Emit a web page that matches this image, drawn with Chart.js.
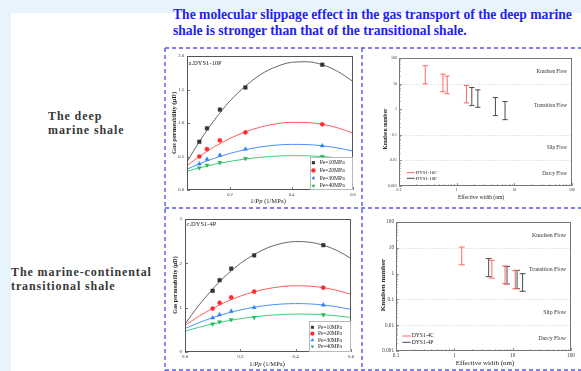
<!DOCTYPE html>
<html>
<head>
<meta charset="utf-8">
<script src="https://cdn.jsdelivr.net/npm/chart.js@4.4.1/dist/chart.umd.min.js"></script>
<style>
html,body{margin:0;padding:0}
body{width:581px;height:371px;position:relative;overflow:hidden;background:#e7f4fd;font-family:"Liberation Serif","Times New Roman",serif}
#panel{position:absolute;left:11px;top:13px;right:0;bottom:0;background:#fff}
#frames{position:absolute;left:0;top:0}
canvas{position:absolute}
.txt{position:absolute;white-space:nowrap}
#headline{left:173px;top:7px;font-size:13.6px;line-height:16px;font-weight:bold;color:#2323ee}
.side{font-size:12px;line-height:14px;font-weight:bold;color:#383838;letter-spacing:0.9px}
.ttl{position:absolute;white-space:nowrap;color:#222;transform:translate(-50%,-50%)}
.ttl.v{transform:translate(-50%,-50%) rotate(-90deg);font-weight:bold}
</style>
</head>
<body>
<div id="panel"></div>
<svg id="frames" width="581" height="371">
  <g stroke="#5656f2" stroke-width="1.4" stroke-dasharray="4 3" fill="none">
    <line x1="165" y1="48" x2="581" y2="48"/>
    <line x1="165" y1="208" x2="581" y2="208"/>
    <line x1="165" y1="370" x2="581" y2="370"/>
    <line x1="165" y1="48" x2="165" y2="371"/>
    <line x1="362" y1="48" x2="362" y2="371"/>
  </g>
</svg>

<div id="headline" class="txt">The molecular slippage effect in the gas transport of the deep marine<br>shale is stronger than that of the transitional shale.</div>
<div class="txt side" style="left:48px;top:109px">The deep<br>marine shale</div>
<div class="txt side" style="left:11px;top:265px">The marine-continental<br>transitional shale</div>

<canvas id="cA" width="195" height="158" style="left:166px;top:49px"></canvas>
<canvas id="cB" width="218" height="158" style="left:363px;top:49px"></canvas>
<canvas id="cC" width="195" height="161" style="left:166px;top:209px"></canvas>
<canvas id="cD" width="218" height="161" style="left:363px;top:209px"></canvas>

<div class="ttl v" style="left:173px;top:123px;font-size:6.5px">Gas permeability (μD)</div>
<div class="ttl" style="left:268px;top:200px;font-size:6.5px">1/<i>Pp</i> (1/MPa)</div>
<div class="ttl v" style="left:175px;top:285px;font-size:6px">Gas permeability (μD)</div>
<div class="ttl" style="left:267px;top:363px;font-size:6.5px">1/<i>Pp</i> (1/MPa)</div>
<div class="ttl v" style="left:385px;top:129px;font-size:5.5px">Knudsen number</div>
<div class="ttl" style="left:481px;top:197px;font-size:5.5px">Effective width (nm)</div>
<div class="ttl v" style="left:383px;top:285px;font-size:7px">Knudsen number</div>
<div class="ttl" style="left:485px;top:363px;font-size:7px">Effective width (nm)</div>

<script>
// ---------- permeability data (x = 1/Pp, 1/MPa) ----------
const invPp = [0.1, 0.125, 0.167, 0.25, 0.5];
const peLabels = ['Pe=10MPa', 'Pe=20MPa', 'Pe=30MPa', 'Pe=40MPa'];

// a. DYS1-10P measured points
const perm10P_Pe10 = [0.72, 0.92, 1.20, 1.53, 1.87];
const perm10P_Pe20 = [0.50, 0.61, 0.74, 0.86, 0.98];
const perm10P_Pe30 = [0.39, 0.46, 0.52, 0.61, 0.66];
const perm10P_Pe40 = [0.33, 0.37, 0.41, 0.47, 0.50];
// a. DYS1-10P fitted curves
const fitX10P = [0.06, 0.1, 0.15, 0.2, 0.25, 0.3, 0.35, 0.4, 0.45, 0.5, 0.55, 0.6];
const fit10P_Pe10 = [0.42, 0.72, 1.05, 1.33, 1.55, 1.725, 1.84, 1.905, 1.914, 1.87, 1.77, 1.62];
const fit10P_Pe20 = [0.364, 0.50, 0.648, 0.77, 0.868, 0.94, 0.988, 1.01, 1.008, 0.98, 0.928, 0.85];
const fit10P_Pe30 = [0.311, 0.39, 0.475, 0.546, 0.602, 0.643, 0.67, 0.681, 0.678, 0.66, 0.628, 0.58];
const fit10P_Pe40 = [0.28, 0.33, 0.384, 0.428, 0.463, 0.489, 0.506, 0.513, 0.511, 0.50, 0.479, 0.45];

// c. DYS1-4P measured points
const perm4P_Pe10 = [1.38, 1.62, 1.88, 2.18, 2.41];
const perm4P_Pe20 = [0.98, 1.11, 1.23, 1.36, 1.45];
const perm4P_Pe30 = [0.77, 0.84, 0.92, 1.00, 1.06];
const perm4P_Pe40 = [0.63, 0.68, 0.73, 0.78, 0.84];
// c. DYS1-4P fitted curves
const fitX4P = [0, 0.05, 0.1, 0.15, 0.2, 0.25, 0.3, 0.35, 0.4, 0.45, 0.5, 0.55, 0.6];
const fit4P_Pe10 = [0.63, 1.054, 1.42, 1.738, 1.998, 2.20, 2.354, 2.45, 2.491, 2.478, 2.41, 2.288, 2.11];
const fit4P_Pe20 = [0.60, 0.805, 0.983, 1.135, 1.26, 1.359, 1.43, 1.475, 1.494, 1.486, 1.45, 1.39, 1.30];
const fit4P_Pe30 = [0.53, 0.66, 0.773, 0.869, 0.948, 1.01, 1.054, 1.082, 1.092, 1.085, 1.06, 1.019, 0.96];
const fit4P_Pe40 = [0.47, 0.557, 0.633, 0.698, 0.752, 0.794, 0.826, 0.846, 0.856, 0.854, 0.84, 0.816, 0.78];

// axis ticks for the permeability panels
const xTicks10P = [0.2, 0.4, 0.6];
const xLabels10P = ['0.2', '0.4', '0.6'];
const yTicks10P = [0, 0.5, 1, 1.5, 2];
const yLabels10P = ['0.0', '0.5', '1.0', '1.5', '2.0'];
const xTicks4P = [0, 0.2, 0.4, 0.6];
const xLabels4P = ['0.0', '0.2', '0.4', '0.6'];
const yTicks4P = [0, 1, 2, 3];
const yLabels4P = ['0', '1', '2', '3'];

// ---------- Knudsen number ranges vs effective width (nm) ----------
const width10C = [0.285, 0.577, 0.685, 1.48];
const knLow10C = [9.8, 4.8, 4.0, 1.76];
const knHigh10C = [50, 23.5, 19.6, 8.45];
const width10P = [1.83, 2.33, 4.7, 6.9];
const knLow10P = [1.38, 1.19, 0.56, 0.39];
const knHigh10P = [7.05, 5.7, 2.85, 2.0];

const width4C = [1.34, 4.4, 7.4, 11.1];
const knLow4C = [2.2, 0.67, 0.41, 0.26];
const knHigh4C = [10.7, 3.27, 1.97, 1.3];
const width4P = [3.88, 8.0, 11.9, 14.8];
const knLow4P = [0.76, 0.395, 0.26, 0.206];
const knHigh4P = [3.8, 1.9, 1.34, 0.99];

const logXTicks = [0.1, 1, 10, 100];
const logXLabels = ['0.1', '1', '10', '100'];
const logYTicks = [0.001, 0.01, 0.1, 1, 10, 100];
const logYLabels = ['0.001', '0.01', '0.1', '1', '10', '100'];
const regimeNames = ['Knudsen Flow', 'Transition Flow', 'Slip Flow', 'Darcy Flow'];
const regimeAt = [30, 1.4, 0.031, 0.0031];
const regimeBounds = [10, 0.1, 0.01];

// ---------- styles ----------
const peColors = ['#333333', '#ff2b2b', '#2b7fff', '#22b957'];
const fitColors = ['#666666', '#ff5c5c', '#4a90ff', '#3dcf7a'];
const peMarkers = ['rect', 'circle', 'triangle', 'triangle'];
const peRotation = [0, 0, 0, 180];
const peRadius = [2.6, 2.1, 2.4, 2.4];
const FONT = '"Liberation Serif", "Times New Roman", serif';
Chart.defaults.font.family = FONT;
Chart.defaults.color = '#333';

function drawMarker(ctx, style, rot, x, y, r, color) {
  ctx.save();
  ctx.fillStyle = color;
  ctx.translate(x, y);
  ctx.rotate(rot * Math.PI / 180);
  ctx.beginPath();
  if (style === 'rect') {
    const s = r * Math.SQRT1_2;
    ctx.rect(-s, -s, 2 * s, 2 * s);
  } else if (style === 'circle') {
    ctx.arc(0, 0, r, 0, Math.PI * 2);
  } else {
    ctx.moveTo(0, -r);
    ctx.lineTo(r * 0.87, r * 0.5);
    ctx.lineTo(-r * 0.87, r * 0.5);
    ctx.closePath();
  }
  ctx.fill();
  ctx.restore();
}

// plot frame, inward tick marks, guide lines, regime labels and panel tag
const framePlugin = {
  id: 'frame',
  beforeDatasetsDraw(chart, _a, o) {
    const { ctx, chartArea: a } = chart;
    const ys = chart.scales.y;
    ctx.save();
    if (o.guides) {
      ctx.strokeStyle = '#d6d6d6';
      ctx.lineWidth = 0.8;
      ctx.setLineDash([1.2, 1.2]);
      o.guides.forEach(v => {
        const py = Math.round(ys.getPixelForValue(v)) + 0.5;
        ctx.beginPath(); ctx.moveTo(a.left, py); ctx.lineTo(a.right, py); ctx.stroke();
      });
      ctx.setLineDash([]);
    }
    if (o.regimes) {
      ctx.fillStyle = '#333';
      ctx.font = o.regimeSize + 'px ' + FONT;
      ctx.textAlign = 'right';
      ctx.textBaseline = 'middle';
      o.regimes.forEach((t, i) => ctx.fillText(t, a.right - 5, ys.getPixelForValue(o.regimeAt[i])));
    }
    ctx.restore();
  },
  afterDatasetsDraw(chart, _a, o) {
    const { ctx, chartArea: a } = chart;
    const xs = chart.scales.x, ys = chart.scales.y;
    ctx.save();
    ctx.strokeStyle = o.color;
    ctx.lineWidth = o.width;
    ctx.strokeRect(a.left + 0.5, a.top + 0.5, a.right - a.left - 1, a.bottom - a.top - 1);
    ctx.lineWidth = 0.8;
    const tickX = (v, len) => {
      const p = Math.round(xs.getPixelForValue(v)) + 0.5;
      ctx.beginPath(); ctx.moveTo(p, a.bottom); ctx.lineTo(p, a.bottom - len); ctx.stroke();
    };
    const tickY = (v, len) => {
      const p = Math.round(ys.getPixelForValue(v)) + 0.5;
      ctx.beginPath(); ctx.moveTo(a.left, p); ctx.lineTo(a.left + len, p); ctx.stroke();
    };
    xs.ticks.forEach(t => tickX(t.value, 3));
    ys.ticks.forEach(t => tickY(t.value, 3));
    if (o.log) {
      const minor = (s, fn) => {
        for (let e = Math.round(Math.log10(s.min)); e < Math.round(Math.log10(s.max)); e++) {
          for (let k = 2; k <= 9; k++) fn(k * Math.pow(10, e), 1.6);
        }
      };
      minor(xs, tickX);
      minor(ys, tickY);
    }
    if (o.tag) {
      ctx.fillStyle = '#222';
      ctx.font = o.tagSize + 'px ' + FONT;
      ctx.textAlign = 'left';
      ctx.textBaseline = 'middle';
      ctx.fillText(o.tag, a.left + 1.5, a.top + o.tagDy);
    }
    ctx.restore();
  }
};

// legend with markers (boxed, bottom-right) or line keys (bottom-left)
const keyPlugin = {
  id: 'key',
  afterDatasetsDraw(chart, _a, o) {
    const { ctx, chartArea: a } = chart;
    const items = chart.data.datasets.filter(d => d.label);
    ctx.save();
    let x0, y0;
    if (o.box) {
      x0 = a.right - o.w; y0 = a.bottom - o.h;
      ctx.fillStyle = '#fff';
      ctx.fillRect(x0, y0, o.w, o.h);
      ctx.strokeStyle = '#8a8a8a';
      ctx.lineWidth = 0.6;
      ctx.strokeRect(x0 + 0.5, y0 + 0.5, o.w - 1, o.h - 1);
    } else {
      x0 = a.left; y0 = a.bottom;
    }
    ctx.font = o.size + 'px ' + FONT;
    ctx.fillStyle = '#222';
    ctx.textAlign = 'left';
    ctx.textBaseline = 'middle';
    items.forEach((d, i) => {
      const cy = y0 + o.first + i * o.step;
      if (o.kind === 'line') {
        ctx.strokeStyle = d.borderColor;
        ctx.lineWidth = 1;
        ctx.beginPath(); ctx.moveTo(x0 + o.m0, cy); ctx.lineTo(x0 + o.m1, cy); ctx.stroke();
      } else {
        drawMarker(ctx, d.pointStyle, d.rotation || 0, x0 + o.m0, cy, o.r, d.backgroundColor);
      }
      ctx.fillStyle = '#222';
      ctx.fillText(d.label, x0 + o.tx, cy);
    });
    ctx.restore();
  }
};

function axis(type, min, max, ticks, labels, size, fixed, isY, pad) {
  return {
    type, min, max,
    afterBuildTicks: s => { s.ticks = ticks.map(v => ({ value: v })); },
    afterFit: s => { if (isY) s.width = fixed; else s.height = fixed; },
    grid: { display: false, drawTicks: false },
    border: { display: false },
    ticks: {
      callback: (v, i) => labels[i],
      font: { size }, color: '#333', padding: pad,
      autoSkip: false, maxRotation: 0, minRotation: 0
    }
  };
}

function permChart(id, geo, fitX, fits, pts, xAx, yAx, legend) {
  const datasets = [];
  pts.forEach((ys, i) => datasets.push({
    label: peLabels[i],
    data: invPp.map((x, j) => ({ x, y: ys[j] })),
    pointStyle: peMarkers[i], rotation: peRotation[i], pointRadius: peRadius[i],
    backgroundColor: peColors[i], borderColor: peColors[i], borderWidth: 0.4,
    showLine: false, order: 0
  }));
  fits.forEach((ys, i) => datasets.push({
    data: fitX.map((x, j) => ({ x, y: ys[j] })),
    showLine: true, pointRadius: 0, borderColor: fitColors[i], borderWidth: 1,
    cubicInterpolationMode: 'monotone', order: 1
  }));
  return new Chart(document.getElementById(id), {
    type: 'scatter',
    data: { datasets },
    plugins: [framePlugin, keyPlugin],
    options: {
      responsive: false, animation: false, events: [],
      layout: { padding: { top: geo.top, right: geo.right, left: 0, bottom: 0 } },
      plugins: {
        legend: { display: false }, tooltip: { enabled: false },
        frame: { color: '#555', width: 1, tag: geo.tag, tagSize: geo.tagSize, tagDy: geo.tagDy },
        key: legend
      },
      scales: { x: xAx, y: yAx }
    }
  });
}

function knChart(id, geo, series, legend) {
  const datasets = series.map(s => {
    const data = [];
    s.w.forEach((x, j) => {
      data.push({ x, y: s.lo[j] }, { x, y: s.hi[j] }, { x, y: null });
    });
    return {
      label: s.label, data, showLine: true, spanGaps: false,
      borderColor: s.color, borderWidth: 1,
      pointStyle: 'line', pointRadius: geo.cap, pointBorderColor: s.color, pointBorderWidth: 1
    };
  });
  return new Chart(document.getElementById(id), {
    type: 'scatter',
    data: { datasets },
    plugins: [framePlugin, keyPlugin],
    options: {
      responsive: false, animation: false, events: [],
      layout: { padding: { top: geo.top, right: geo.right, left: 0, bottom: 0 } },
      plugins: {
        legend: { display: false }, tooltip: { enabled: false },
        frame: { color: '#777', width: 1, log: true, guides: regimeBounds,
                 regimes: regimeNames, regimeAt, regimeSize: geo.regimeSize },
        key: legend
      },
      scales: {
        x: axis('logarithmic', 0.1, 100, logXTicks, logXLabels, geo.tick, geo.xh, false, 2),
        y: axis('logarithmic', 0.001, 100, logYTicks, logYLabels, geo.tick, geo.yw, true, 2)
      }
    }
  });
}

// a. DYS1-10P
permChart('cA', { top: 7, right: 8, tag: 'a.DYS1-10P', tagSize: 6.5, tagDy: 7 },
  fitX10P, [fit10P_Pe10, fit10P_Pe20, fit10P_Pe30, fit10P_Pe40],
  [perm10P_Pe10, perm10P_Pe20, perm10P_Pe30, perm10P_Pe40],
  axis('linear', 0.06, 0.6, xTicks10P, xLabels10P, 4.6, 17, false, 2),
  axis('linear', 0, 2, yTicks10P, yLabels10P, 4.6, 21, true, 3),
  { box: true, w: 43, h: 33, first: 5.7, step: 7.7, m0: 3.4, tx: 9.7, r: 2.2, size: 5.6 });

// c. DYS1-4P
permChart('cC', { top: 10, right: 10, tag: 'c.DYS1-4P', tagSize: 6.5, tagDy: 5.5 },
  fitX4P, [fit4P_Pe10, fit4P_Pe20, fit4P_Pe30, fit4P_Pe40],
  [perm4P_Pe10, perm4P_Pe20, perm4P_Pe30, perm4P_Pe40],
  axis('linear', 0, 0.6, xTicks4P, xLabels4P, 5, 18, false, 2),
  axis('linear', 0, 3, yTicks4P, yLabels4P, 5, 19, true, 3),
  { box: true, w: 42, h: 31, first: 6.3, step: 6.4, m0: 3.4, tx: 9, r: 2.1, size: 5.4 });

// b. DYS1-10C / DYS1-10P
knChart('cB', { top: 9, right: 9, xh: 21, yw: 36, tick: 4, cap: 2.6, regimeSize: 5.2 }, [
  { label: 'DYS1-10C', color: '#ff6565', w: width10C, lo: knLow10C, hi: knHigh10C },
  { label: 'DYS1-10P', color: '#4a4a4a', w: width10P, lo: knLow10P, hi: knHigh10P }
], { box: false, kind: 'line', first: -13.4, step: 5.7, m0: 7.7, m1: 15.7, tx: 16.7, size: 4.8 });

// d. DYS1-4C / DYS1-4P
knChart('cD', { top: 13, right: 10, xh: 19, yw: 33, tick: 5.2, cap: 3, regimeSize: 5.8 }, [
  { label: 'DYS1-4C', color: '#ff6565', w: width4C, lo: knLow4C, hi: knHigh4C },
  { label: 'DYS1-4P', color: '#4a4a4a', w: width4P, lo: knLow4P, hi: knHigh4P }
], { box: false, kind: 'line', first: -15, step: 6.3, m0: 6.3, m1: 14.7, tx: 15.7, size: 5.6 });
</script>
</body>
</html>
